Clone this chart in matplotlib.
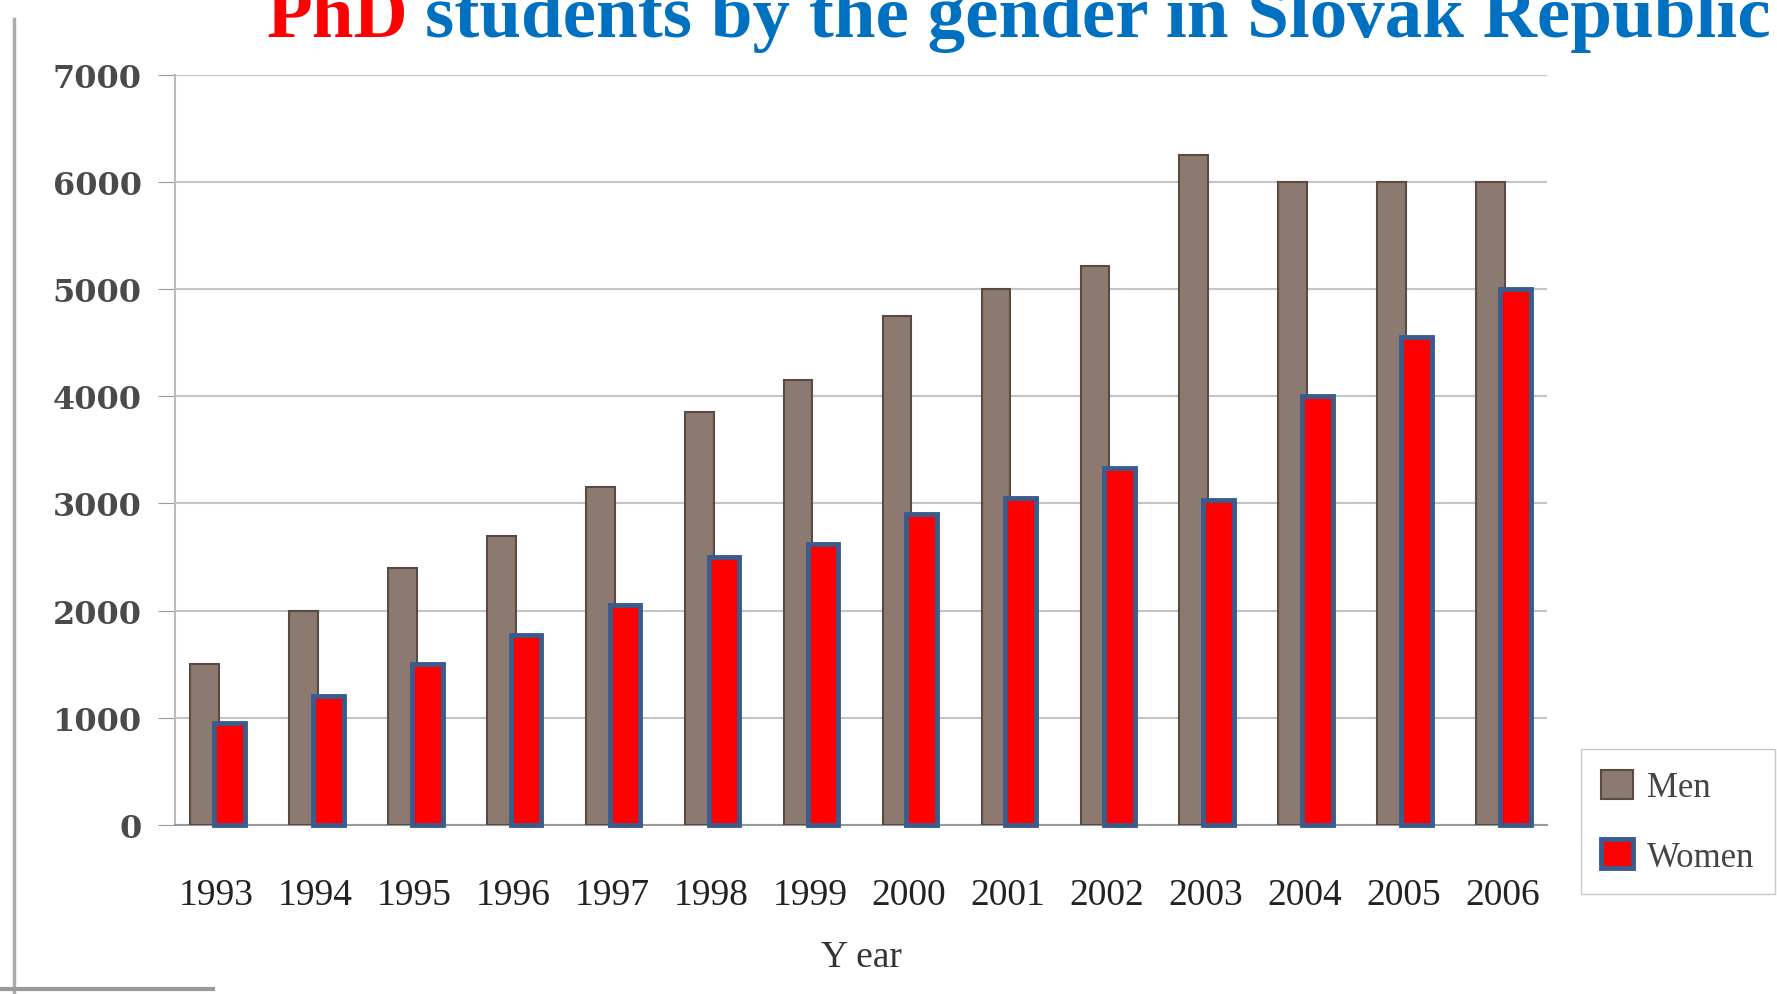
import numpy as np
import matplotlib.pyplot as plt
from matplotlib.lines import Line2D

years = ["1993", "1994", "1995", "1996", "1997", "1998", "1999",
         "2000", "2001", "2002", "2003", "2004", "2005", "2006"]
men = [1500, 2000, 2400, 2700, 3150, 3850, 4150,
       4750, 5000, 5220, 6250, 6000, 6000, 6000]
women = [950, 1200, 1500, 1770, 2050, 2500, 2620,
         2900, 3050, 3330, 3030, 4000, 4550, 5000]
y_ticks = [0, 1000, 2000, 3000, 4000, 5000, 6000, 7000]

men_color = "#8c7a70"
men_edge = "#5a4a44"
women_color = "#ff0000"
women_edge = "#3b5b8c"
tick_gray = "#4a4a4a"

fig = plt.figure(figsize=(17.77, 9.95), dpi=100)
ax = fig.add_axes([0.0985, 0.170, 0.772, 0.7536])

x = np.arange(len(years))
ax.bar(x - 0.12, men, width=0.29, color=men_color, edgecolor=men_edge,
       linewidth=1.5, label="Men", zorder=3)
ax.bar(x + 0.13, women, width=0.31, color=women_color, edgecolor=women_edge,
       linewidth=3.5, label="Women", zorder=4, clip_on=False)

ax.set_ylim(0, 7000)
ax.set_xlim(-0.42, 13.45)
ax.set_yticks(y_ticks)
ax.set_yticklabels([str(v) for v in y_ticks], family="DejaVu Serif",
                   fontweight="bold", fontsize=23, color=tick_gray)
ax.set_xticks(x)
ax.set_xticklabels(years, family="Liberation Serif", fontsize=27, color="#222222")
ax.tick_params(axis="x", length=0, pad=38)
ax.tick_params(axis="y", length=12, color="#999999", pad=12)
ax.set_xlabel("Y ear", family="Liberation Serif", fontsize=27,
              color="#333333", labelpad=20)

ax.grid(axis="y", color="#c4c4c4", linewidth=1.5, zorder=0)
for side in ["top", "right"]:
    ax.spines[side].set_visible(False)
ax.spines["left"].set_color("#bbbbbb")
ax.spines["left"].set_linewidth(1.5)
ax.spines["bottom"].set_color("#999999")
ax.spines["bottom"].set_linewidth(1.5)

leg = fig.legend(loc="upper left", bbox_to_anchor=(0.8895, 0.246),
                 prop={"family": "Liberation Serif", "size": 25},
                 frameon=True, fancybox=False, edgecolor="#bbbbbb",
                 handlelength=0.9, handleheight=0.9, labelspacing=1.0,
                 borderpad=0.6, handletextpad=0.4, borderaxespad=0)
for t in leg.get_texts():
    t.set_color("#444444")

# scan border remnants
fig.add_artist(Line2D([0.008, 0.008], [0.0, 0.98], color="#aaaaaa",
                      linewidth=2.5, transform=fig.transFigure))
fig.add_artist(Line2D([0.0, 0.12], [0.005, 0.005], color="#999999",
                      linewidth=3, transform=fig.transFigure))

# two-colour title
t1 = fig.text(0.15, 0.963, "PhD", color="red", fontsize=54,
              fontweight="bold", family="Liberation Serif", va="baseline")
fig.canvas.draw()
bb = t1.get_window_extent()
x2 = (bb.x1 + 17) / fig.bbox.width
fig.text(x2, 0.963, "students by the gender in Slovak Republic", color="#0070c0",
         fontsize=54, fontweight="bold", family="Liberation Serif", va="baseline")

fig.savefig("out.png", dpi=100)
